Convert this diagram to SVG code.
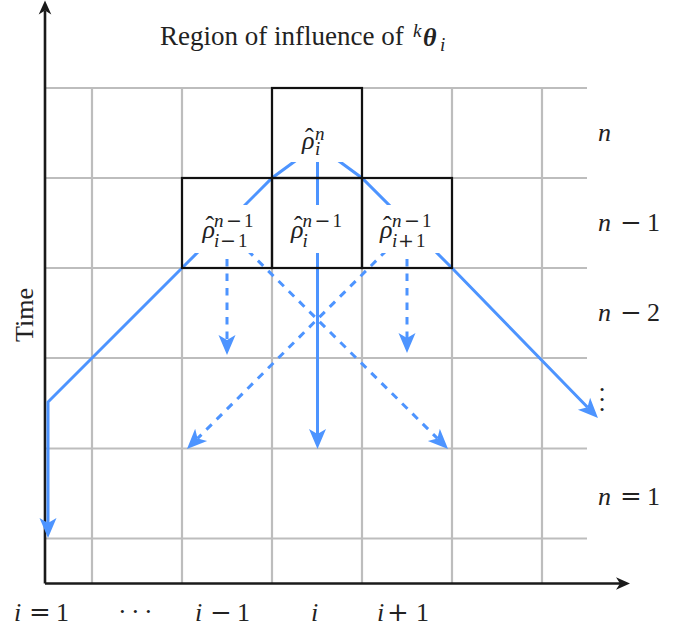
<svg xmlns="http://www.w3.org/2000/svg" width="688" height="631" viewBox="0 0 688 631">
<style>
.grid line{stroke:#bdbdbd;stroke-width:2.2}
.axis{stroke:#1a1a1a;stroke-width:2.6;fill:none}
.flow{stroke:#4d94ff;stroke-width:3;fill:none}
.dash{stroke-dasharray:7.5 7}
.box{fill:none;stroke:#111;stroke-width:2.2}
.bg{fill:#fff}
text{font-family:"Liberation Serif","Times New Roman",serif;fill:#222}
.m{font-style:italic}
.big{font-size:26px}
.sc{font-size:19px}
.op{font-family:"DejaVu Serif",serif;font-style:normal}
.up{font-style:normal}
</style>
<defs>
<marker id="ah" viewBox="0 -10 22 20" refX="5" refY="0" markerWidth="22" markerHeight="20" markerUnits="userSpaceOnUse" orient="auto"><path d="M0,-8.5 L20,0 L0,8.5 L5,0 z" fill="#4d94ff"/></marker>
<marker id="ax" viewBox="0 -7 15 14" refX="4" refY="0" markerWidth="15" markerHeight="14" markerUnits="userSpaceOnUse" orient="auto"><path d="M0,-6.3 L14,0 L0,6.3 L4,0 z" fill="#1a1a1a"/></marker>
</defs>
<rect width="688" height="631" fill="#fff"/>
<g id="grid" class="grid">
<line x1="45" y1="88" x2="587" y2="88"/>
<line x1="45" y1="178" x2="587" y2="178"/>
<line x1="45" y1="268" x2="587" y2="268"/>
<line x1="45" y1="358" x2="587" y2="358"/>
<line x1="45" y1="448.5" x2="587" y2="448.5"/>
<line x1="45" y1="538.5" x2="587" y2="538.5"/>
<line x1="92" y1="88" x2="92" y2="583"/>
<line x1="182" y1="88" x2="182" y2="583"/>
<line x1="272" y1="88" x2="272" y2="583"/>
<line x1="362" y1="88" x2="362" y2="583"/>
<line x1="452" y1="88" x2="452" y2="583"/>
<line x1="542" y1="88" x2="542" y2="583"/>
</g>
<g id="axes">
<path class="axis" d="M45,583.5 L45,10.5" marker-end="url(#ax)"/>
<path class="axis" d="M45,583.5 L620,583.5" marker-end="url(#ax)"/>
</g>
<g id="connectors">
<path class="flow" d="M317,145 L272,178 L182,268 L48,402 L48,523" marker-end="url(#ah)"/>
<path class="flow" d="M317,145 L362,178 L452,268 L587.5,407.3" marker-end="url(#ah)"/>
<path class="flow" d="M317.5,145 L317.5,434" marker-end="url(#ah)"/>
<path class="flow dash" d="M227,230 L227,340" marker-end="url(#ah)"/>
<path class="flow dash" d="M407,230 L407,338" marker-end="url(#ah)"/>
<path class="flow dash" d="M227,230 L437.4,438.4" marker-end="url(#ah)"/>
<path class="flow dash" d="M407,230 L197.6,438.4" marker-end="url(#ah)"/>
</g>
<g id="node-rho-n-i">
<rect class="box" x="272" y="88" width="90" height="90"/>
<rect class="bg" x="290" y="118" width="54" height="44"/>
<text class="m big"><tspan class="up" x="305" y="146">ˆ</tspan><tspan x="302" y="149">ρ</tspan><tspan class="sc" x="315" y="140">n</tspan><tspan class="sc" x="315" y="155">i</tspan></text>
</g>
<g id="node-rho-n1-im1">
<rect class="box" x="182" y="178" width="90" height="90"/>
<rect class="bg" x="195" y="205" width="66" height="48"/>
<text class="m big"><tspan class="up" x="205.5" y="234">ˆ</tspan><tspan x="202.5" y="237.5">ρ</tspan><tspan class="sc" x="214" y="227">n</tspan><tspan class="sc op" x="226" y="227">−</tspan><tspan class="sc up" x="244" y="227">1</tspan><tspan class="sc" x="214" y="246.5">i</tspan><tspan class="sc op" x="220" y="246.5">−</tspan><tspan class="sc up" x="238" y="246.5">1</tspan></text>
</g>
<g id="node-rho-n1-i">
<rect class="box" x="272" y="178" width="90" height="90"/>
<rect class="bg" x="285" y="205" width="66" height="48"/>
<text class="m big"><tspan class="up" x="294" y="234">ˆ</tspan><tspan x="291" y="237.5">ρ</tspan><tspan class="sc" x="302.5" y="227">n</tspan><tspan class="sc op" x="314.5" y="227">−</tspan><tspan class="sc up" x="332.5" y="227">1</tspan><tspan class="sc" x="302.5" y="246.5">i</tspan></text>
</g>
<g id="node-rho-n1-ip1">
<rect class="box" x="362" y="178" width="90" height="90"/>
<rect class="bg" x="375" y="205" width="66" height="48"/>
<text class="m big"><tspan class="up" x="383" y="234">ˆ</tspan><tspan x="380" y="237.5">ρ</tspan><tspan class="sc" x="392" y="227">n</tspan><tspan class="sc op" x="404" y="227">−</tspan><tspan class="sc up" x="422" y="227">1</tspan><tspan class="sc" x="392" y="246.5">i</tspan><tspan class="sc op" x="398" y="246.5">+</tspan><tspan class="sc up" x="416" y="246.5">1</tspan></text>
</g>
<g id="title">
<text class="big"><tspan x="160" y="45" style="font-size:27px">Region of influence of</tspan><tspan class="m sc" x="413" y="37">k</tspan><tspan class="m" x="423" y="46" style="font-weight:bold">θ</tspan><tspan class="m sc" x="440" y="51">i</tspan></text>
</g>
<g id="time-label">
<text class="big" transform="translate(33,315) rotate(-90)" text-anchor="middle">Time</text>
</g>
<g id="row-labels" class="big">
<text class="m" x="598" y="141">n</text>
<text y="231"><tspan class="m" x="598">n</tspan><tspan class="op" x="620">−</tspan><tspan x="647">1</tspan></text>
<text y="321"><tspan class="m" x="598">n</tspan><tspan class="op" x="620">−</tspan><tspan x="647">2</tspan></text>
<text text-anchor="middle"><tspan x="602" y="398">·</tspan><tspan x="602" y="408">·</tspan><tspan x="602" y="418">·</tspan></text>
<text y="505"><tspan class="m" x="598">n</tspan><tspan class="op" x="620">=</tspan><tspan x="647">1</tspan></text>
</g>
<g id="col-labels" class="big">
<text y="621"><tspan class="m" x="14">i</tspan><tspan class="op" x="29">=</tspan><tspan x="56">1</tspan></text>
<text y="620"><tspan x="118">·</tspan><tspan x="131">·</tspan><tspan x="144">·</tspan></text>
<text y="621"><tspan class="m" x="195">i</tspan><tspan class="op" x="210">−</tspan><tspan x="237">1</tspan></text>
<text class="m" x="311" y="621">i</text>
<text y="621"><tspan class="m" x="377">i</tspan><tspan class="op" x="387">+</tspan><tspan x="416">1</tspan></text>
</g>
</svg>
